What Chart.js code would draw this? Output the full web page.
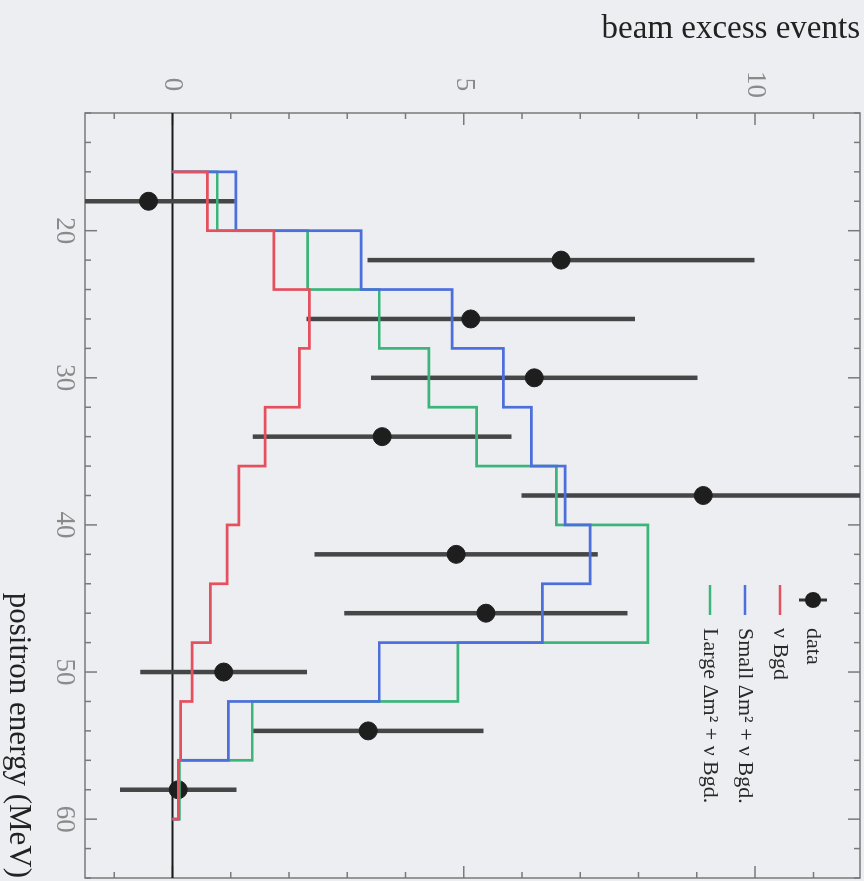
<!DOCTYPE html>
<html><head><meta charset="utf-8">
<script src="https://cdn.jsdelivr.net/npm/chart.js@4/dist/chart.umd.min.js"></script>
<style>
html,body{margin:0;padding:0;background:#eceef1;overflow:hidden;width:864px;height:881px}
#wrap{position:absolute;left:0;top:0;width:881px;height:864px;transform-origin:0 0;transform:translate(864px,0) rotate(90deg)}
</style></head><body>
<div id="wrap"><canvas id="c" width="881" height="864"></canvas></div>
<script>
// ---- data (positron energy in MeV, beam excess events) ----
const binEdges = [16,20,24,28,32,36,40,44,48,52,56,60];
const nuBgd   = [0.60,1.74,2.35,2.18,1.59,1.14,0.94,0.65,0.34,0.14,0.10];
const smallDm = [1.09,3.24,4.80,5.68,6.16,6.74,7.17,6.35,3.55,0.96,0.10];
const largeDm = [0.77,2.32,3.55,4.40,5.22,6.59,8.16,8.16,4.90,1.37,0.12];
const dataEnergy = [18,22,26,30,34,38,42,46,50,54,58];
const dataEvents = [-0.41,6.67,5.12,6.21,3.60,9.11,4.87,5.38,0.88,3.36,0.10];
const dataErr    = [1.48,3.32,2.82,2.80,2.22,3.12,2.43,2.43,1.43,1.98,1.00];
const energyTickLabels = [20,30,40,50,60];
const eventTickLabels = [0,5,10];
const legendLabels = ['data','\u03BD Bgd','Small \u0394m\u00B2 + \u03BD Bgd.','Large \u0394m\u00B2 + \u03BD Bgd.'];
const seriesColors = ['#e5505e','#4d6fdc','#3bb57a'];

function histPoints(vals){
  const pts=[{x:binEdges[0],y:0}];
  for(let i=0;i<vals.length;i++) pts.push({x:binEdges[i],y:vals[i]});
  const last=binEdges[binEdges.length-1];
  pts.push({x:last,y:vals[vals.length-1]});
  pts.push({x:last,y:0});
  return pts;
}
const SERIF='Liberation Serif';
const DATA_INDEX=3;

const bgPlugin={id:'bg',beforeDraw(ch){const c=ch.ctx;c.save();c.fillStyle='#eceef1';c.fillRect(0,0,ch.width,ch.height);c.restore();}};

const framePlugin={id:'frame',beforeDatasetsDraw(ch){
  const c=ch.ctx,a=ch.chartArea,xs=ch.scales.x,ys=ch.scales.y;
  c.save();
  c.strokeStyle='#7a7a7a';c.lineWidth=1.5;
  c.strokeRect(a.left,a.top,a.right-a.left,a.bottom-a.top);
  c.beginPath();
  for(let e=12;e<=64;e+=2){
    const px=xs.getPixelForValue(e);
    const L=(e%10===0)?12:6;
    c.moveTo(px,a.bottom);c.lineTo(px,a.bottom-L);
    c.moveTo(px,a.top);c.lineTo(px,a.top+L);
  }
  for(let v=-1;v<=11;v+=1){
    const py=ys.getPixelForValue(v);
    const L=(v%5===0)?12:6;
    c.moveTo(a.left,py);c.lineTo(a.left+L,py);
    c.moveTo(a.right,py);c.lineTo(a.right-L,py);
  }
  c.stroke();
  // zero line
  const y0=ys.getPixelForValue(0);
  c.strokeStyle='#1a1a1a';c.lineWidth=2;
  c.beginPath();c.moveTo(a.left,y0);c.lineTo(a.right,y0);c.stroke();
  c.restore();
}};

const errPlugin={id:'errbars',beforeDatasetDraw(ch,args){
  if(args.index!==DATA_INDEX)return;
  const c=ch.ctx,a=ch.chartArea,xs=ch.scales.x,ys=ch.scales.y;
  c.save();
  c.beginPath();c.rect(a.left,a.top,a.right-a.left,a.bottom-a.top);c.clip();
  c.strokeStyle='#464646';c.lineWidth=4.5;
  c.beginPath();
  for(let i=0;i<dataEnergy.length;i++){
    const px=xs.getPixelForValue(dataEnergy[i]);
    c.moveTo(px,ys.getPixelForValue(dataEvents[i]-dataErr[i]));
    c.lineTo(px,ys.getPixelForValue(dataEvents[i]+dataErr[i]));
  }
  c.stroke();c.restore();
}};

const legendPlugin={id:'leg',afterDraw(ch){
  const c=ch.ctx,a=ch.chartArea;
  const x0=a.left+472,x1=a.left+502,tx=a.left+515;
  const rows=[47,80,115,150];
  c.save();
  c.font='22px "'+SERIF+'"';c.textBaseline='middle';c.fillStyle='#2a2a2a';
  for(let i=0;i<legendLabels.length;i++){
    const y=a.top+rows[i];
    if(i===0){
      c.strokeStyle='#333';c.lineWidth=3;
      c.beginPath();c.moveTo((x0+x1)/2,y-14);c.lineTo((x0+x1)/2,y+14);c.stroke();
      c.fillStyle='#1e1e1e';c.beginPath();c.arc((x0+x1)/2,y,8,0,Math.PI*2);c.fill();
      c.fillStyle='#2a2a2a';
    } else {
      c.strokeStyle=seriesColors[i-1];c.lineWidth=2.5;
      c.beginPath();c.moveTo(x0,y);c.lineTo(x1,y);c.stroke();
    }
    c.fillText(legendLabels[i],tx,y);
  }
  c.restore();
}};

const noPad=s=>{s.paddingTop=0;s.paddingBottom=0;s.paddingLeft=0;s.paddingRight=0;};

const lineDs=(label,vals,color)=>({type:'line',label,data:histPoints(vals),borderColor:color,borderWidth:2.7,pointRadius:0,stepped:'before',fill:false,tension:0});

new Chart(document.getElementById('c'),{
  type:'line',
  data:{datasets:[
    lineDs(legendLabels[1],nuBgd,seriesColors[0]),
    lineDs(legendLabels[2],smallDm,seriesColors[1]),
    lineDs(legendLabels[3],largeDm,seriesColors[2]),
    {type:'scatter',label:legendLabels[0],data:dataEnergy.map((e,i)=>({x:e,y:dataEvents[i]})),
     pointRadius:9,pointBackgroundColor:'#1e1e1e',pointBorderColor:'#1e1e1e',showLine:false}
  ]},
  options:{
    responsive:false,animation:false,devicePixelRatio:1,
    layout:{autoPadding:false,padding:{top:4,right:3,left:0,bottom:0}},
    plugins:{legend:{display:false},tooltip:{enabled:false}},
    scales:{
      x:{type:'linear',position:'bottom',min:12,max:64,
        afterBuildTicks:s=>{s.ticks=energyTickLabels.map(v=>({value:v}));},
        afterFit:s=>{s.height=85;noPad(s);},
        grid:{display:false,drawTicks:false},border:{display:false},
        ticks:{padding:5,color:'#8a8a8a',font:{family:SERIF,size:27},maxRotation:0,autoSkip:false},
        title:{display:true,text:'positron energy (MeV)',align:'end',color:'#222',font:{family:SERIF,size:31},padding:{top:0,bottom:0}}
      },
      y:{type:'linear',position:'left',min:-1.5,max:11.8,
        afterBuildTicks:s=>{s.ticks=eventTickLabels.map(v=>({value:v}));},
        afterFit:s=>{s.width=113;noPad(s);},
        grid:{display:false,drawTicks:false},border:{display:false},
        ticks:{padding:15,crossAlign:'center',color:'#8a8a8a',font:{family:SERIF,size:27},autoSkip:false},
        title:{display:true,text:'beam excess events',align:'end',color:'#222',font:{family:SERIF,size:33},padding:{top:10,bottom:0}}
      }
    }
  },
  plugins:[bgPlugin,framePlugin,errPlugin,legendPlugin]
});
</script>
</body></html>
